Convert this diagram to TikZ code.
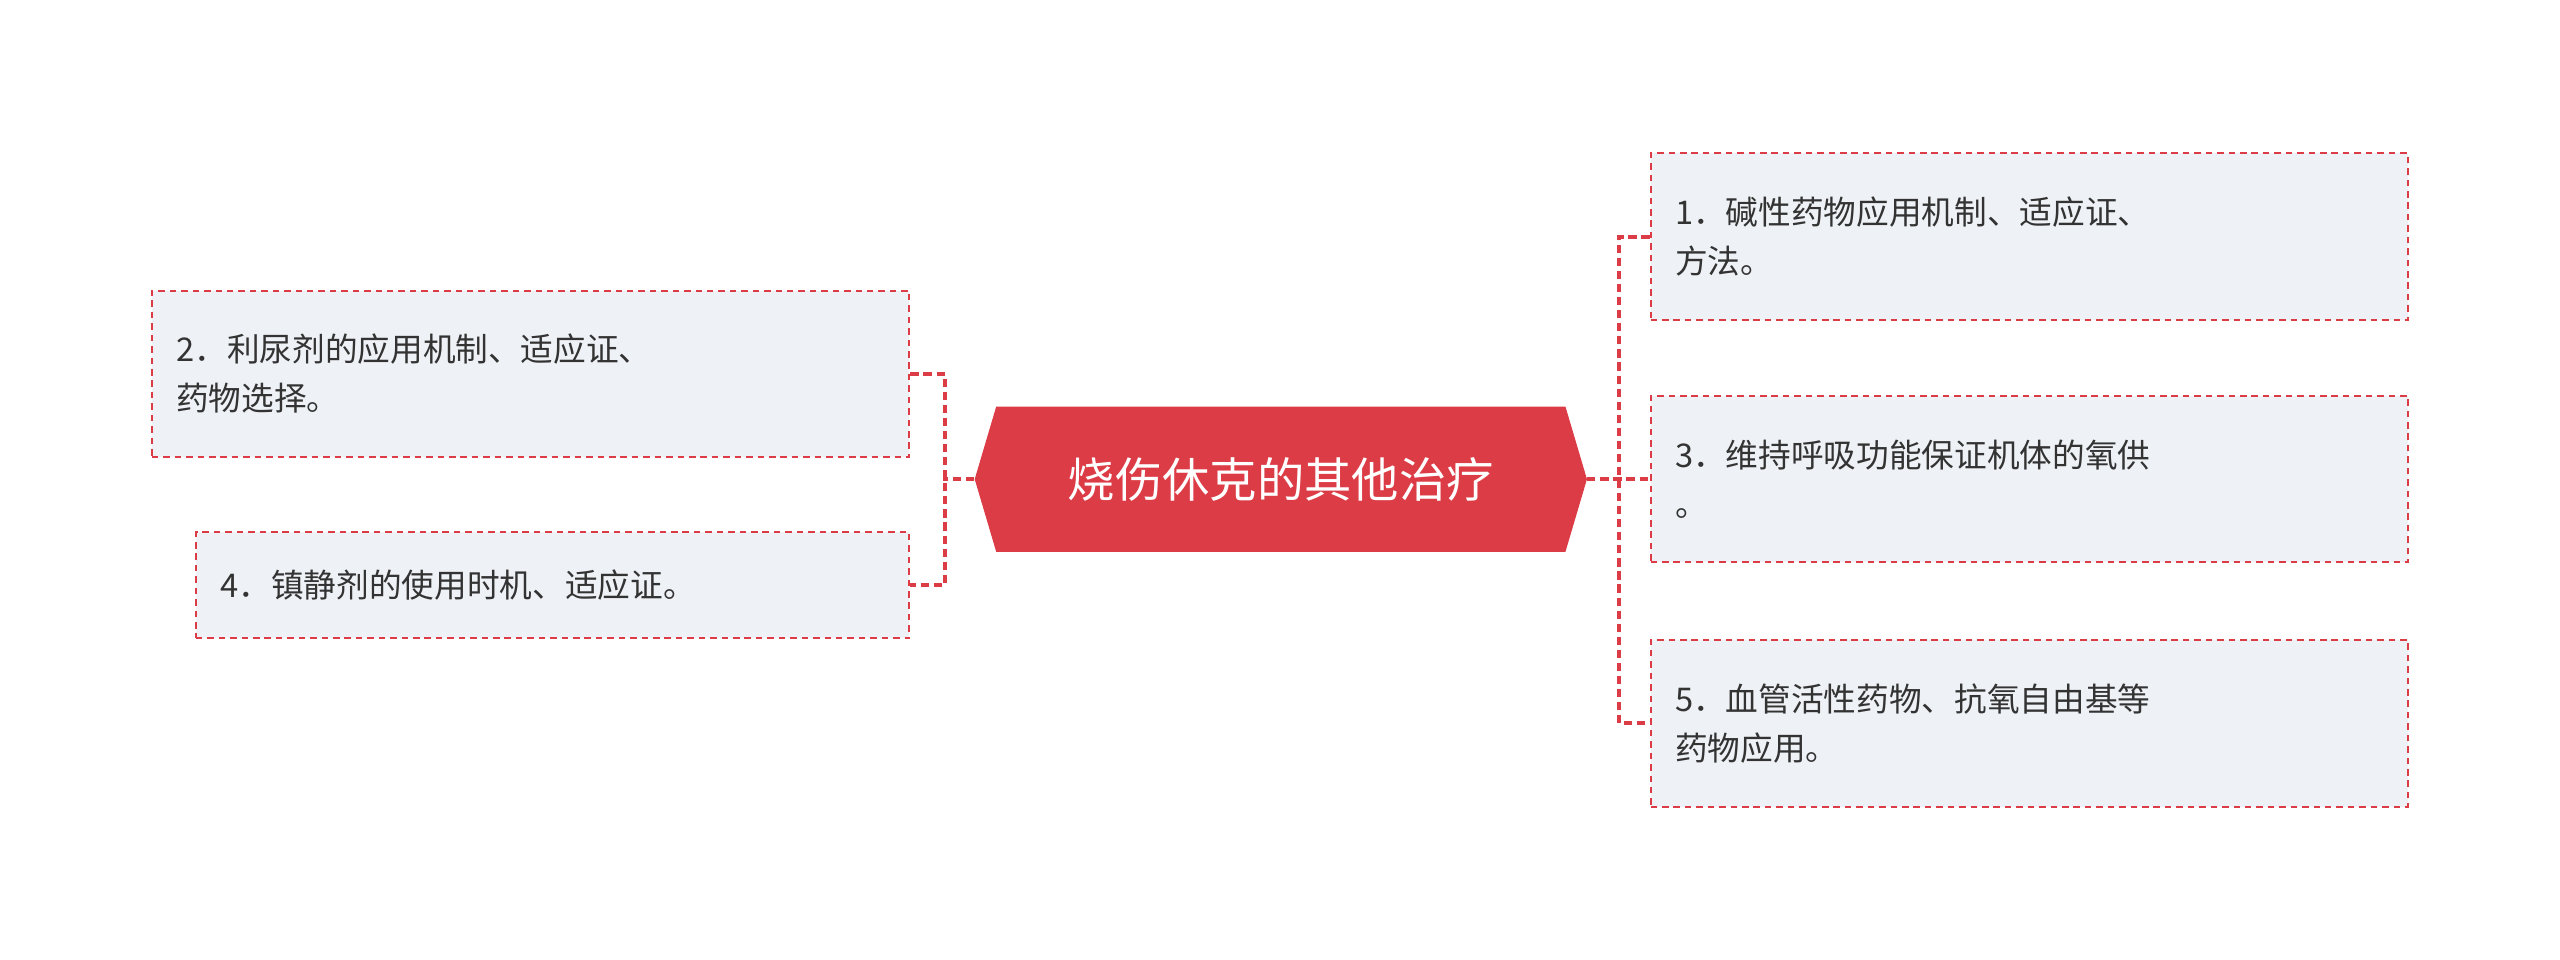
\documentclass[tikz,border=0pt]{standalone}
\usepackage{fontspec}
\setmainfont{Noto Sans CJK SC}
\usetikzlibrary{shapes.symbols}
\definecolor{rootred}{HTML}{DC3C46}
\definecolor{leafgray}{HTML}{EEF1F5}
\tikzset{
  leaf/.style={draw=rootred,fill=leafgray,line width=1.2pt,dash pattern=on 4pt off 3pt,
    inner sep=0pt,minimum height=#1,font=\fontsize{20}{30}\selectfont,text=black!80},
  link/.style={draw=rootred,line width=2.5pt,dash pattern=on 5pt off 3pt},
}
\begin{document}
\begin{tikzpicture}[x=1pt,y=-1pt]
\useasboundingbox (0,0) rectangle (1568,588);
%
\node (root) at (784.5,293.5) [signal,signal to=east and west,signal pointer angle=147,
  fill=rootred,minimum width=375,minimum height=89,inner sep=0pt,text=white,
  font=\fontsize{29}{32}\selectfont] {烧伤休克的其他治疗};
\node (b2) at (325,229) [leaf=102,minimum width=464,text width=434,align=left]
  {2．利尿剂的应用机制、适应证、\\药物选择。};
\node (b4) at (338.5,358.5) [leaf=65,minimum width=437,text width=407,align=left]
  {4．镇静剂的使用时机、适应证。};
\node (b1) at (1243,145) [leaf=102,minimum width=464,text width=434,align=left]
  {1．碱性药物应用机制、适应证、\\方法。};
\node (b3) at (1243,293.5) [leaf=102,minimum width=464,text width=434,align=left]
  {3．维持呼吸功能保证机体的氧供\\。};
\node (b5) at (1243,443) [leaf=102,minimum width=464,text width=434,align=left]
  {5．血管活性药物、抗氧自由基等\\药物应用。};
%
\draw [link] (b2.east) -- ++(21,0) |- (b4.east);
\draw [link] (root.west) -- ++(-19,0) coordinate (lj);
\draw [link] (b1.west) -- ++(-19,0) |- (b5.west);
\draw [link] (root.east) -- (b3.west);
%
\end{tikzpicture}
\end{document}
